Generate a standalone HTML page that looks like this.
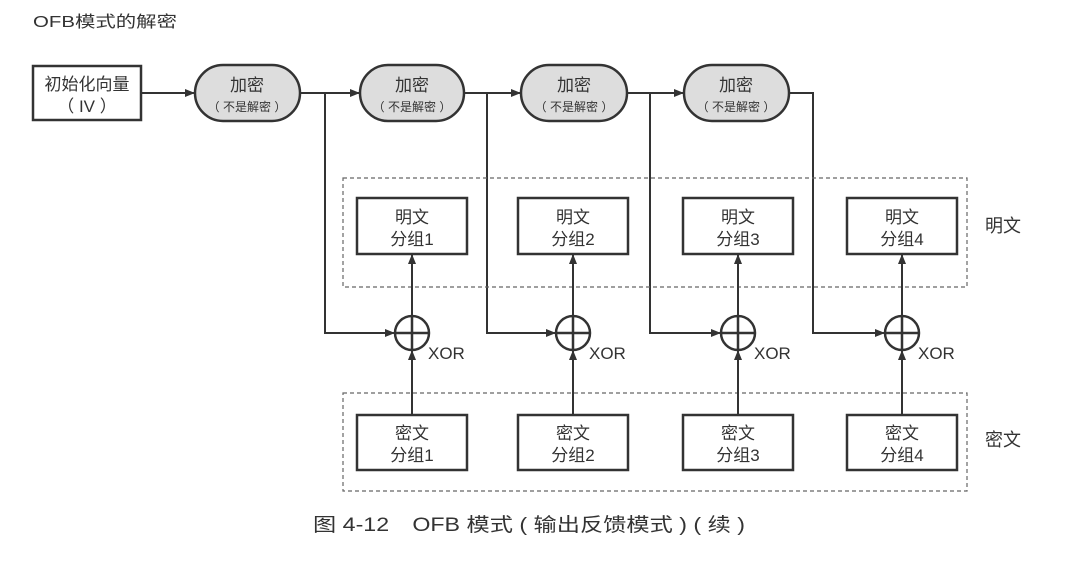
<!DOCTYPE html>
<html><head><meta charset="utf-8"><style>
html,body{margin:0;padding:0;background:#fff;}
svg{display:block;}
text{font-family:"Liberation Sans","Noto Sans CJK SC",sans-serif;fill:#333;}
</style></head><body>
<svg width="1080" height="566" viewBox="0 0 1080 566" xmlns="http://www.w3.org/2000/svg">
<defs>
<marker id="a" viewBox="0 0 10 10" refX="10" refY="5" markerWidth="10" markerHeight="10" markerUnits="userSpaceOnUse" orient="auto"><path d="M0,1 L10,5 L0,9 z" fill="#333"/></marker>
<marker id="b" viewBox="0 0 10 10" refX="10" refY="5" markerWidth="14" markerHeight="10" markerUnits="userSpaceOnUse" orient="auto"><path d="M0,1 L10,5 L0,9 z" fill="#333"/></marker>
</defs>
<text x="33" y="27" font-size="16" fill="#444" textLength="144" lengthAdjust="spacingAndGlyphs">OFB模式的解密</text>

<g stroke="#333" stroke-width="2.5" fill="none">
<rect x="33" y="66" width="108" height="54" fill="#fff"/>
<rect x="195" y="65" width="105" height="56" rx="28" fill="#ddd"/>
<rect x="360" y="65" width="104" height="56" rx="28" fill="#ddd"/>
<rect x="521" y="65" width="106" height="56" rx="28" fill="#ddd"/>
<rect x="684" y="65" width="105" height="56" rx="28" fill="#ddd"/>
</g>
<g stroke="#333" stroke-width="2" fill="none">
<line x1="141" y1="93" x2="195" y2="93" marker-end="url(#b)"/>
<line x1="300" y1="93" x2="360" y2="93" marker-end="url(#b)"/>
<line x1="464" y1="93" x2="521" y2="93" marker-end="url(#b)"/>
<line x1="627" y1="93" x2="684" y2="93" marker-end="url(#b)"/>
<polyline points="325,93 325,333 395,333" marker-end="url(#b)"/>
<polyline points="487,93 487,333 556,333" marker-end="url(#b)"/>
<polyline points="650,93 650,333 721,333" marker-end="url(#b)"/>
<polyline points="789,93 813,93 813,333 885,333" marker-end="url(#b)"/>
</g>
<g stroke="#666" stroke-width="1.2" stroke-dasharray="4,3" fill="none">
<rect x="343" y="178" width="624" height="109"/>
<rect x="343" y="393" width="624" height="98"/>
</g>
<g stroke="#333" stroke-width="2.5" fill="#fff">
<rect x="357" y="198" width="110" height="56"/>
<rect x="518" y="198" width="110" height="56"/>
<rect x="683" y="198" width="110" height="56"/>
<rect x="847" y="198" width="110" height="56"/>
<rect x="357" y="415" width="110" height="55"/>
<rect x="518" y="415" width="110" height="55"/>
<rect x="683" y="415" width="110" height="55"/>
<rect x="847" y="415" width="110" height="55"/>
</g>
<g stroke="#333" stroke-width="2" fill="none">
<line x1="412" y1="316" x2="412" y2="254" marker-end="url(#a)"/>
<line x1="573" y1="316" x2="573" y2="254" marker-end="url(#a)"/>
<line x1="738" y1="316" x2="738" y2="254" marker-end="url(#a)"/>
<line x1="902" y1="316" x2="902" y2="254" marker-end="url(#a)"/>
<line x1="412" y1="415" x2="412" y2="350" marker-end="url(#a)"/>
<line x1="573" y1="415" x2="573" y2="350" marker-end="url(#a)"/>
<line x1="738" y1="415" x2="738" y2="350" marker-end="url(#a)"/>
<line x1="902" y1="415" x2="902" y2="350" marker-end="url(#a)"/>
</g>
<g stroke="#333" stroke-width="2.5" fill="none">
<circle cx="412" cy="333" r="17"/><line x1="395" y1="333" x2="429" y2="333"/><line x1="412" y1="316" x2="412" y2="350"/>
<circle cx="573" cy="333" r="17"/><line x1="556" y1="333" x2="590" y2="333"/><line x1="573" y1="316" x2="573" y2="350"/>
<circle cx="738" cy="333" r="17"/><line x1="721" y1="333" x2="755" y2="333"/><line x1="738" y1="316" x2="738" y2="350"/>
<circle cx="902" cy="333" r="17"/><line x1="885" y1="333" x2="919" y2="333"/><line x1="902" y1="316" x2="902" y2="350"/>
</g>
<g font-size="17">
<text x="428" y="359">XOR</text><text x="589" y="359">XOR</text><text x="754" y="359">XOR</text><text x="918" y="359">XOR</text>
</g>
<g font-size="17" text-anchor="middle">
<text x="87" y="90">初始化向量</text><text x="87" y="112">（ IV ）</text>
<text x="247" y="91">加密</text><text x="412" y="91">加密</text><text x="574" y="91">加密</text><text x="736" y="91">加密</text>
</g>
<g font-size="12" text-anchor="middle">
<text x="247" y="111">（ 不是解密 ）</text><text x="412" y="111">（ 不是解密 ）</text><text x="574" y="111">（ 不是解密 ）</text><text x="736" y="111">（ 不是解密 ）</text>
</g>
<g font-size="17" text-anchor="middle">
<text x="412" y="223">明文</text><text x="412" y="245">分组1</text>
<text x="573" y="223">明文</text><text x="573" y="245">分组2</text>
<text x="738" y="223">明文</text><text x="738" y="245">分组3</text>
<text x="902" y="223">明文</text><text x="902" y="245">分组4</text>
<text x="412" y="439">密文</text><text x="412" y="461">分组1</text>
<text x="573" y="439">密文</text><text x="573" y="461">分组2</text>
<text x="738" y="439">密文</text><text x="738" y="461">分组3</text>
<text x="902" y="439">密文</text><text x="902" y="461">分组4</text>
</g>
<text x="985" y="232" font-size="18">明文</text>
<text x="985" y="446" font-size="18">密文</text>
<text x="313" y="531" font-size="19" fill="#333" textLength="432" lengthAdjust="spacingAndGlyphs">图 4-12　OFB 模式 ( 输出反馈模式 ) ( 续 )</text>
</svg>
</body></html>
